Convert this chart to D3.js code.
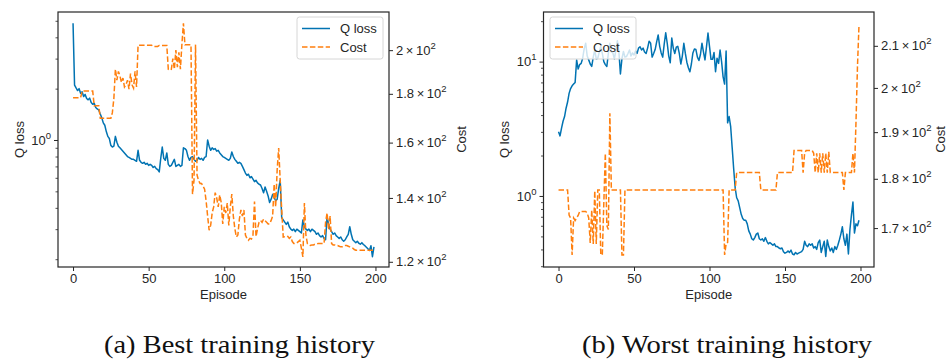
<!DOCTYPE html>
<html>
<head>
<meta charset="utf-8">
<script src="https://cdn.jsdelivr.net/npm/d3@7"></script>
<style>
body { margin: 0; background: #fff; }
text { font-family: "Liberation Sans", Arial, sans-serif; fill: #262626; }
.caption { font-family: "Liberation Serif", "DejaVu Serif", serif; fill: #111; }
</style>
</head>
<body>
<svg id="chart" width="949" height="363"></svg>
<script>
// episodes 0..199
const episodes = d3.range(200);

// best run: Q loss per episode
const qBest = [
    4.83, 2.10, 2.02, 1.95, 2.00, 1.88, 1.92, 1.80, 1.85, 1.75,
    1.72, 1.76, 1.66, 1.62, 1.64, 1.55, 1.52, 1.50, 1.42, 1.35,
    1.26, 1.22, 1.12, 1.05, 1.02, 0.93, 0.91, 0.92, 1.05, 0.97,
    0.92, 0.90, 0.88, 0.86, 0.84, 0.82, 0.80, 0.79, 0.78, 0.77,
    0.77, 0.76, 0.75, 0.87, 0.76, 0.74, 0.73, 0.74, 0.72, 0.73,
    0.71, 0.72, 0.71, 0.69, 0.70, 0.68, 0.67, 0.65, 0.78, 0.91,
    0.78, 0.76, 0.84, 0.72, 0.70, 0.71, 0.74, 0.77, 0.70, 0.71,
    0.72, 0.70, 0.71, 0.90, 0.89, 0.87, 0.80, 0.76, 0.79, 0.80,
    0.77, 0.75, 0.76, 0.79, 0.77, 0.78, 0.76, 0.79, 0.80, 1.00,
    0.92, 0.87, 0.90, 0.88, 0.89, 0.86, 0.87, 0.84, 0.82, 0.80,
    0.79, 0.78, 0.77, 0.76, 0.78, 0.85, 0.80, 0.77, 0.75, 0.73,
    0.74, 0.73, 0.70, 0.67, 0.64, 0.62, 0.63, 0.60, 0.61, 0.59,
    0.57, 0.58, 0.56, 0.55, 0.545, 0.52, 0.49, 0.53, 0.50, 0.47,
    0.43, 0.45, 0.48, 0.46, 0.44, 0.45, 0.52, 0.58, 0.35, 0.34,
    0.33, 0.32, 0.33, 0.31, 0.30, 0.295, 0.30, 0.29, 0.30, 0.295,
    0.29, 0.285, 0.34, 0.31, 0.30, 0.295, 0.30, 0.29, 0.30, 0.295,
    0.29, 0.28, 0.285, 0.275, 0.27, 0.275, 0.265, 0.26, 0.355, 0.32,
    0.30, 0.29, 0.28, 0.285, 0.275, 0.27, 0.265, 0.27, 0.26, 0.255,
    0.26, 0.27, 0.28, 0.31, 0.28, 0.26, 0.255, 0.25, 0.255, 0.248,
    0.245, 0.25, 0.244, 0.24, 0.235, 0.23, 0.225, 0.24, 0.207, 0.236
];

// best run: cost per episode
const costBest = [
    178.3, 178.3, 178.3, 178.3, 178.3, 178.3, 181.2, 181.2, 181.2, 181.2,
    181.2, 181.2, 181.2, 181.2, 174.9, 174.9, 174.9, 174.9, 169.7, 169.7,
    169.7, 169.7, 169.7, 169.7, 169.7, 169.7, 172, 178, 191, 186,
    190, 188, 185, 187, 183, 184, 186, 182, 189, 184,
    182.5, 190, 183, 202.4, 202.4, 202.4, 202.4, 202.4, 202.4, 202.4,
    202.4, 202.4, 202.4, 201.8, 201.8, 201.8, 201.8, 202.3, 202.3, 202.3,
    202.3, 202.3, 202.3, 191, 190.5, 191, 196, 191, 200, 192,
    199, 191, 203, 213.4, 202.6, 202.6, 202.6, 202.6, 202.6, 141.3,
    146, 202.8, 148, 146, 145, 145, 144, 143, 139, 134,
    129.5, 131, 135, 137, 141.8, 140, 137, 141, 138.5, 131.5,
    137, 135, 138.3, 131, 137, 141.3, 134, 130, 127.4, 128,
    133, 136, 134, 136, 128, 127, 126.4, 127, 126.8, 128,
    138.8, 127.5, 130, 132, 132.6, 132, 133, 132.5, 132, 131.5,
    131.5, 132.6, 134, 144.8, 137, 150, 157.9, 146, 136, 127.4,
    127.5, 127.4, 127.6, 127, 127.4, 126, 125.4, 125.4, 125.6, 126,
    126.4, 124, 121.4, 138.3, 128, 125.4, 125, 124.8, 125, 125,
    125.2, 125.2, 125.4, 125.4, 125.4, 125.4, 125.4, 132, 135, 129.6,
    134, 125.4, 125, 125, 124.8, 124.8, 124.6, 124.4, 124.4, 124.6,
    124.8, 124.8, 124.6, 124.4, 124.2, 124, 123.6, 123.4, 123.4, 123.4,
    123.4, 123.4, 123.4, 123.4, 123.4, 123.4, 123.4, 123.4, 123.4, 123.4
];

// worst run: Q loss per episode
const qWorst = [
    3.0, 2.8, 3.2, 3.6, 3.9, 4.5, 5.0, 5.8, 6.3, 6.6,
    6.8, 7.0, 10.3, 8.8, 9.5, 9.7, 10.6, 12.5, 13.7, 11.0,
    10.3, 9.6, 9.2, 10.8, 12.2, 10.5, 10.6, 11.8, 13.0, 11.5,
    10.0, 9.5, 9.2, 11.5, 13.7, 11.8, 11.6, 10.5, 12.2, 14.3,
    11.8, 8.1, 10.5, 11.9, 10.8, 10.9, 11.5, 12.2, 11.0, 11.6,
    11.2, 12.0, 11.5, 12.6, 12.9, 12.2, 12.6, 11.8, 11.5, 12.6,
    14.2, 13.7, 10.8, 11.5, 12.3, 14.0, 15.8, 13.0, 11.6, 10.8,
    13.5, 16.4, 13.7, 11.0, 9.8, 15.0, 12.6, 11.5, 12.8, 13.0,
    11.5, 9.6, 11.0, 13.7, 11.5, 9.9, 9.0, 8.4, 9.6, 11.6,
    12.4, 12.3, 10.8, 10.2, 11.3, 13.7, 11.8, 10.3, 12.9, 16.3,
    13.0, 10.4, 10.4, 11.7, 8.4, 10.6, 9.7, 12.2, 10.0, 7.7,
    6.8, 12.0, 3.5, 3.9, 3.3, 2.3, 1.6, 1.15, 0.97, 0.92,
    0.82, 0.73, 0.68, 0.66, 0.66, 0.62, 0.55, 0.52, 0.48, 0.47,
    0.49, 0.52, 0.53, 0.48, 0.47, 0.48, 0.46, 0.49, 0.46, 0.44,
    0.45, 0.44, 0.43, 0.44, 0.42, 0.42, 0.41, 0.405, 0.41, 0.385,
    0.375, 0.38, 0.39, 0.38, 0.395, 0.37, 0.365, 0.38, 0.37, 0.375,
    0.38, 0.385, 0.40, 0.46, 0.43, 0.42, 0.44, 0.43, 0.44, 0.41,
    0.42, 0.40, 0.45, 0.47, 0.38, 0.42, 0.46, 0.355, 0.47, 0.42,
    0.39, 0.41, 0.38, 0.42, 0.40, 0.43, 0.47, 0.52, 0.59, 0.48,
    0.43, 0.52, 0.37, 0.56, 0.72, 0.90, 0.53, 0.62, 0.60, 0.66
];

// worst run: cost per episode
const costWorst = [
    177.7, 177.7, 177.7, 177.7, 177.7, 177.7, 177.7, 172.6, 172.0, 164.8,
    172.0, 171.5, 172.0, 172.5, 173.3, 173.3, 173.3, 173.3, 173.3, 173.0,
    172.0, 167.1, 173.6, 166.9, 177.5, 166.9, 177.7, 177.7, 164.8, 164.8,
    175.0, 185.4, 170.5, 169.7, 194.2, 177.7, 177.7, 177.7, 177.7, 177.7,
    177.7, 177.7, 164.8, 164.8, 177.7, 177.7, 177.7, 177.7, 177.7, 177.7,
    177.7, 177.7, 177.7, 177.7, 177.7, 177.7, 177.7, 177.7, 177.7, 177.7,
    177.7, 177.7, 177.7, 177.7, 177.7, 177.7, 177.7, 177.7, 177.7, 177.7,
    177.7, 177.7, 177.7, 177.7, 177.7, 177.7, 177.7, 177.7, 177.7, 177.7,
    177.7, 177.7, 177.7, 177.7, 177.7, 177.7, 177.7, 177.7, 177.7, 177.7,
    177.7, 177.7, 177.7, 177.7, 177.7, 177.7, 177.7, 177.7, 177.7, 177.7,
    177.7, 177.7, 177.7, 177.7, 177.7, 177.7, 177.7, 177.7, 177.7, 177.7,
    164.8, 166.9, 167.2, 177.7, 177.7, 177.7, 177.7, 177.7, 181.3, 181.3,
    181.3, 181.3, 181.3, 181.3, 181.3, 181.3, 181.3, 181.3, 181.3, 181.3,
    181.3, 181.3, 181.3, 181.3, 177.7, 177.7, 177.7, 177.7, 177.7, 177.7,
    177.7, 177.7, 177.7, 177.7, 177.7, 181.3, 181.3, 181.3, 181.3, 181.3,
    181.3, 181.3, 181.3, 181.3, 181.3, 181.3, 186.0, 186.0, 186.0, 186.0,
    186.0, 186.0, 181.3, 185.4, 186.0, 186.0, 186.0, 186.0, 186.0, 185.4,
    181.3, 185.4, 181.3, 185.4, 181.3, 185.4, 181.3, 185.4, 181.3, 185.7,
    181.3, 181.3, 181.3, 181.3, 181.3, 181.3, 181.3, 181.3, 181.3, 177.7,
    181.3, 181.3, 181.3, 181.3, 181.3, 185.4, 181.3, 192.0, 205.0, 215.0
];

// ticks
const xTicks = [0, 50, 100, 150, 200];
const costTicksBest = [120, 140, 160, 180, 200];
const costTicksWorst = [170, 180, 190, 200, 210];
const qMajorBest = [1];
const qMinorBest = [0.2, 0.3, 0.4, 0.5, 0.6, 0.7, 0.8, 0.9, 2, 3, 4, 5];
const qMajorWorst = [1, 10];
const qMinorWorst = [0.3, 0.4, 0.5, 0.6, 0.7, 0.8, 0.9, 2, 3, 4, 5, 6, 7, 8, 9, 20];

const seriesNames = ["Q loss", "Cost"];
const captions = ["(a) Best training history", "(b) Worst training history"];

const blue = "#0173b2";
const orange = "#ff7f0e";
const ink = "#262626";
const fs = 13;

const svg = d3.select("#chart");

function styleAxis(sel)
{
    sel.select(".domain").remove();
    sel.selectAll(".tick line").attr("stroke", ink).attr("stroke-width", 1);
    sel.selectAll(".tick text").attr("font-size", fs).attr("fill", ink);
}

function drawPanel(p)
{
    let g = svg.append("g");
    let x = d3.scaleLinear().domain([-9.95, 208.95]).range([p.left, p.right]);
    let yQ = d3.scaleLog().domain(p.qDomain).range([p.bottom, p.top]);
    let yC = d3.scaleLog().domain(p.costDomain).range([p.bottom, p.top]);

    g.append("clipPath").attr("id", "clip" + p.id)
        .append("rect")
        .attr("x", p.left).attr("y", p.top)
        .attr("width", p.right - p.left).attr("height", p.bottom - p.top);

    // x axis
    let xa = g.append("g")
        .attr("transform", "translate(0," + p.bottom + ")")
        .call(d3.axisBottom(x).tickValues(xTicks).tickSize(4).tickPadding(3));
    styleAxis(xa);

    // q loss axis: minor ticks then labelled decades
    let qMinor = g.append("g")
        .attr("transform", "translate(" + p.left + ",0)")
        .call(d3.axisLeft(yQ).tickValues(p.qMinor).tickSize(2.5).tickFormat(() => ""));
    styleAxis(qMinor);
    qMinor.selectAll(".tick line").attr("stroke-width", 0.8);

    let qMajor = g.append("g")
        .attr("transform", "translate(" + p.left + ",0)")
        .call(d3.axisLeft(yQ).tickValues(p.qMajor).tickSize(4).tickPadding(3).tickFormat(() => ""));
    styleAxis(qMajor);
    qMajor.selectAll(".tick text").each(function(d) {
        let t = d3.select(this);
        t.append("tspan").text("10");
        t.append("tspan").attr("dy", -6).attr("font-size", 9.5).text(Math.round(Math.log10(d)));
    });

    // cost axis on the right
    let ca = g.append("g")
        .attr("transform", "translate(" + p.right + ",0)")
        .call(d3.axisRight(yC).tickValues(p.costTicks).tickSize(4).tickPadding(3).tickFormat(() => ""));
    styleAxis(ca);
    ca.selectAll(".tick text").each(function(d) {
        let t = d3.select(this);
        let m = d / 100;
        t.append("tspan").text(m + "\u2009\u00d7\u200910");
        t.append("tspan").attr("dy", -6).attr("font-size", 9.5).text("2");
    });

    // lines
    let lines = g.append("g").attr("clip-path", "url(#clip" + p.id + ")");
    lines.append("path")
        .datum(p.q)
        .attr("fill", "none")
        .attr("stroke", blue)
        .attr("stroke-width", 1.5)
        .attr("stroke-linejoin", "round")
        .attr("d", d3.line().x((d, i) => x(episodes[i])).y(d => yQ(d)));
    lines.append("path")
        .datum(p.cost)
        .attr("fill", "none")
        .attr("stroke", orange)
        .attr("stroke-width", 1.5)
        .attr("stroke-dasharray", "5.5,2.4")
        .attr("d", d3.line().x((d, i) => x(episodes[i])).y(d => yC(d)));

    // frame
    g.append("rect")
        .attr("x", p.left).attr("y", p.top)
        .attr("width", p.right - p.left).attr("height", p.bottom - p.top)
        .attr("fill", "none").attr("stroke", ink).attr("stroke-width", 1.2);

    // axis labels
    g.append("text")
        .attr("x", (p.left + p.right) / 2).attr("y", p.bottom + 32)
        .attr("text-anchor", "middle").attr("font-size", fs)
        .text("Episode");
    g.append("text")
        .attr("transform", "translate(" + p.qLabelX + "," + ((p.top + p.bottom) / 2) + ") rotate(-90)")
        .attr("text-anchor", "middle").attr("font-size", fs)
        .text("Q loss");
    g.append("text")
        .attr("transform", "translate(" + p.costLabelX + "," + ((p.top + p.bottom) / 2) + ") rotate(-90)")
        .attr("text-anchor", "middle").attr("font-size", fs)
        .text("Cost");

    // legend
    let lg = g.append("g").attr("transform", "translate(" + p.legendX + "," + (p.top + 5) + ")");
    lg.append("rect")
        .attr("width", 86).attr("height", 42).attr("rx", 2.5)
        .attr("fill", "#fff").attr("fill-opacity", 0.8)
        .attr("stroke", "#d6d6d6").attr("stroke-width", 1);
    seriesNames.forEach(function(name, i) {
        let yy = 11.5 + i * 18.5;
        lg.append("line")
            .attr("x1", 5).attr("x2", 33).attr("y1", yy).attr("y2", yy)
            .attr("stroke", i === 0 ? blue : orange)
            .attr("stroke-width", 1.5)
            .attr("stroke-dasharray", i === 0 ? null : "5.5,2.4");
        lg.append("text")
            .attr("x", 43).attr("y", yy + 4.5)
            .attr("font-size", fs)
            .text(name);
    });

    // caption
    svg.append("text")
        .attr("class", "caption")
        .attr("x", p.captionX).attr("y", 353)
        .attr("text-anchor", "middle")
        .attr("font-size", 26)
        .attr("textLength", p.captionWidth)
        .attr("lengthAdjust", "spacingAndGlyphs")
        .text(p.caption);
}

drawPanel({
    id: "a", left: 58, right: 389, top: 12, bottom: 267,
    q: qBest, cost: costBest,
    qDomain: [0.180, 5.63], costDomain: [118.5, 219.3],
    qMajor: qMajorBest, qMinor: qMinorBest, costTicks: costTicksBest,
    qLabelX: 24, costLabelX: 466,
    legendX: 297, caption: captions[0], captionX: 239.5, captionWidth: 271
});

drawPanel({
    id: "b", left: 543.5, right: 874, top: 12, bottom: 267,
    q: qWorst, cost: costWorst,
    qDomain: [0.296, 23.4], costDomain: [162.5, 218.4],
    qMajor: qMajorWorst, qMinor: qMinorWorst, costTicks: costTicksWorst,
    qLabelX: 509, costLabelX: 945,
    legendX: 550, caption: captions[1], captionX: 727, captionWidth: 290
});
</script>
</body>
</html>
